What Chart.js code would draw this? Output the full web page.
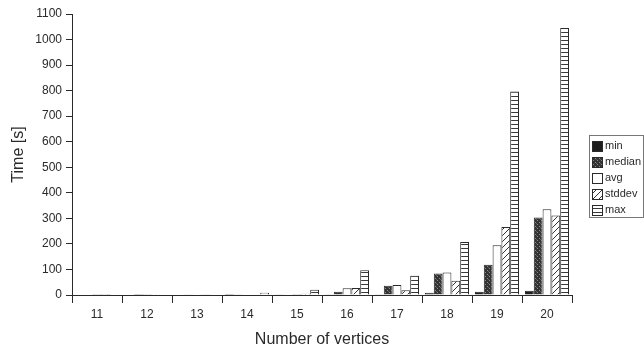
<!DOCTYPE html>
<html>
<head>
<meta charset="utf-8">
<script src="https://cdn.jsdelivr.net/npm/chart.js@4"></script>
<style>
  html, body { margin: 0; padding: 0; background: #fff; }
  canvas { display: block; }
</style>
</head>
<body>
<canvas id="chart" width="644" height="352"></canvas>
<script>
// Run times per graph size (seconds)
const categories = ['11', '12', '13', '14', '15', '16', '17', '18', '19', '20'];
const minTimes    = [0, 0, 0, 0.3, 0.5, 3, 3, 9, 13, 17];
const medianTimes = [0, 0.2, 0.5, 1, 2, 13, 36, 84, 118, 303];
const avgTimes    = [0.1, 0.3, 0.8, 2, 4, 26, 39, 88, 195, 336];
const stddevTimes = [0.1, 0.5, 1, 2, 5, 27, 19, 56, 266, 311];
const maxTimes    = [0.5, 1.5, 3, 9, 21, 97, 75, 207, 797, 1045];
const yTicks = [0, 100, 200, 300, 400, 500, 600, 700, 800, 900, 1000, 1100];

const FONT = "'Liberation Sans', Arial, sans-serif";
const INK = '#2a2a2a';

function makePattern(w, h, draw) {
  const c = document.createElement('canvas');
  c.width = w;
  c.height = h;
  const g = c.getContext('2d');
  draw(g);
  return g.createPattern(c, 'repeat');
}

const ctx = document.getElementById('chart').getContext('2d');

// fill styles imitating the printed hatching
const fillMin = '#1e1e1e';
const fillMedian = makePattern(4, 4, g => {
  g.fillStyle = '#333';
  g.fillRect(0, 0, 4, 4);
  g.fillStyle = '#8a8a8a';
  g.fillRect(1, 0, 1, 1);
  g.fillRect(3, 2, 1, 1);
  g.fillStyle = '#5c5c5c';
  g.fillRect(0, 3, 1, 1);
});
const fillAvg = '#ffffff';
const fillStddev = makePattern(6, 6, g => {
  g.fillStyle = '#fff';
  g.fillRect(0, 0, 6, 6);
  g.strokeStyle = '#333';
  g.lineWidth = 1;
  g.beginPath();
  g.moveTo(0, 6); g.lineTo(6, 0);
  g.moveTo(-1, 1); g.lineTo(1, -1);
  g.moveTo(5, 7); g.lineTo(7, 5);
  g.stroke();
});
const fillMax = makePattern(8, 4, g => {
  g.fillStyle = '#fff';
  g.fillRect(0, 0, 8, 4);
  g.fillStyle = '#3a3a3a';
  g.fillRect(0, 0, 8, 1);
});

const series = [
  { label: 'min',    data: minTimes,    fill: fillMin },
  { label: 'median', data: medianTimes, fill: fillMedian },
  { label: 'avg',    data: avgTimes,    fill: fillAvg },
  { label: 'stddev', data: stddevTimes, fill: fillStddev },
  { label: 'max',    data: maxTimes,    fill: fillMax },
];

const datasets = series.map(s => ({
  label: s.label,
  data: s.data,
  backgroundColor: s.fill,
  borderColor: INK,
  borderWidth: 1,
  categoryPercentage: 0.88,
  barPercentage: 1.0,
}));

// boxed legend at the right edge, drawn by hand
const boxLegend = {
  id: 'boxLegend',
  afterDraw(chart) {
    const c = chart.ctx;
    const x0 = 589, y0 = 135, w = 54, h = 82;
    c.save();
    c.strokeStyle = '#777';
    c.lineWidth = 1;
    c.strokeRect(x0 + 0.5, y0 + 0.5, w, h);
    c.font = `11px ${FONT}`;
    c.textBaseline = 'middle';
    chart.data.datasets.forEach((ds, i) => {
      const cy = y0 + 11 + i * 16;
      c.fillStyle = ds.backgroundColor;
      c.fillRect(592, cy - 5, 10, 10);
      c.strokeStyle = INK;
      c.strokeRect(592.5, cy - 4.5, 10, 10);
      c.fillStyle = INK;
      c.fillText(ds.label, 605, cy);
    });
    c.restore();
  },
};

new Chart(ctx, {
  type: 'bar',
  data: { labels: categories, datasets },
  options: {
    responsive: false,
    animation: false,
    devicePixelRatio: 1,
    layout: { padding: { left: 0, right: 72, top: 14, bottom: 0 } },
    plugins: {
      legend: { display: false },
      tooltip: { enabled: false },
    },
    scales: {
      x: {
        offset: true,
        grid: {
          offset: true,
          drawOnChartArea: false,
          drawTicks: true,
          tickLength: 8,
          color: INK,
        },
        border: { color: INK, width: 1 },
        ticks: {
          color: INK,
          font: { family: FONT, size: 12 },
          padding: 4,
          maxRotation: 0,
        },
        title: {
          display: true,
          text: 'Number of vertices',
          color: INK,
          font: { family: FONT, size: 16 },
          padding: { top: 0, bottom: 3 },
        },
        afterFit(scale) { scale.height = 57; },
      },
      y: {
        min: 0,
        max: 1100,
        afterBuildTicks(scale) { scale.ticks = yTicks.map(v => ({ value: v })); },
        grid: {
          drawOnChartArea: false,
          drawTicks: true,
          tickLength: 6,
          color: INK,
        },
        border: { color: INK, width: 1 },
        ticks: {
          color: INK,
          font: { family: FONT, size: 12 },
          padding: 4,
          callback: v => String(v),
        },
        title: {
          display: true,
          text: 'Time [s]',
          color: INK,
          font: { family: FONT, size: 16 },
          padding: { top: 9, bottom: 0 },
        },
        afterFit(scale) { scale.width = 72; },
      },
    },
  },
  plugins: [boxLegend],
});
</script>
</body>
</html>
